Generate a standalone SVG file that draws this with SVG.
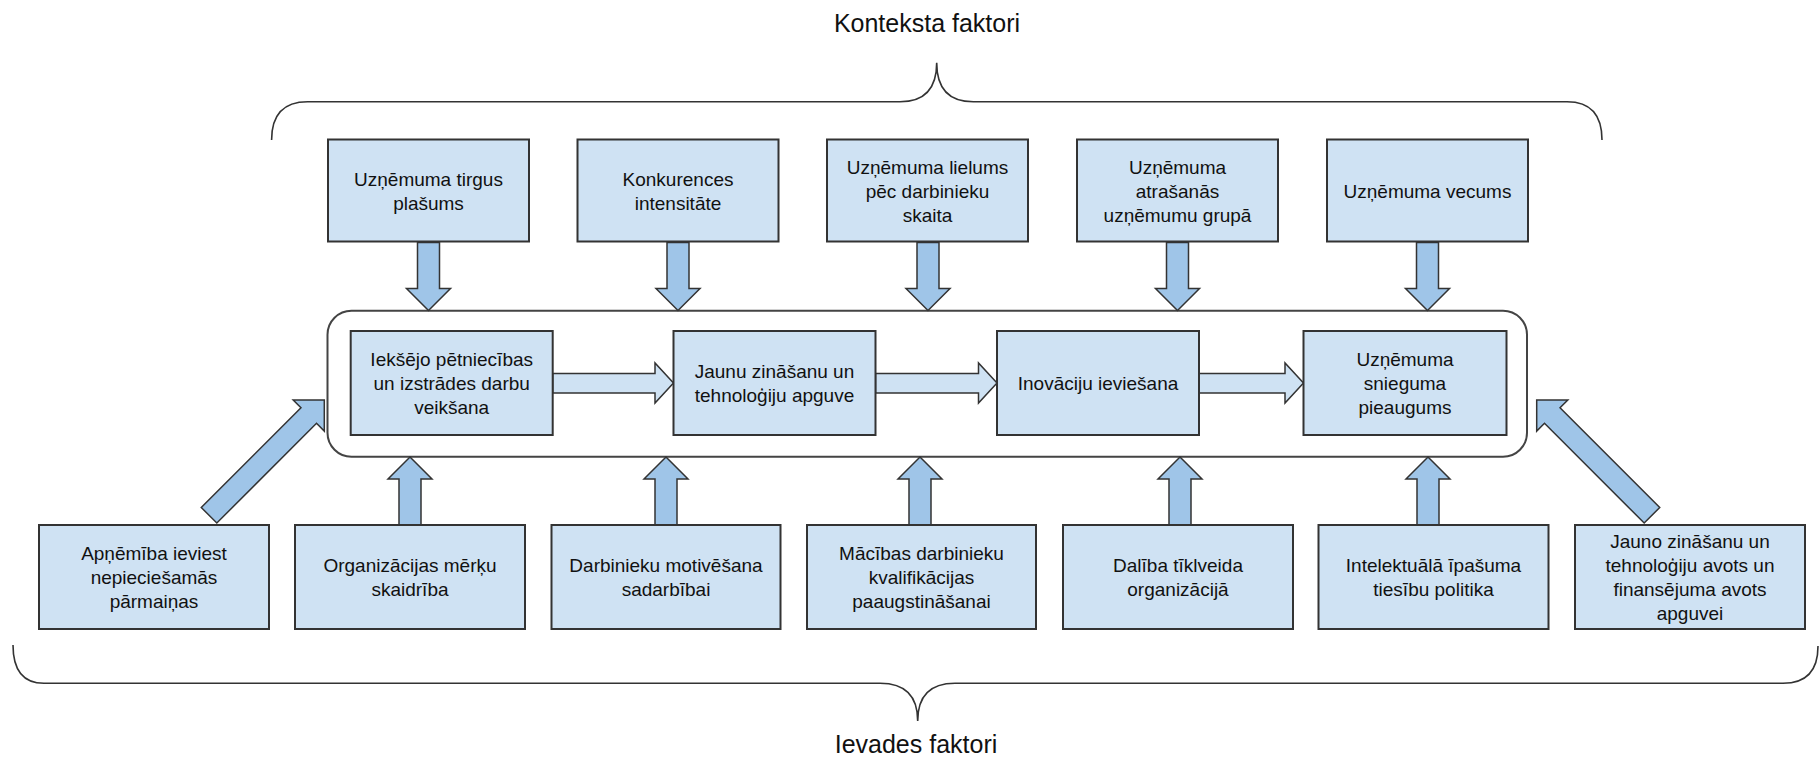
<svg xmlns="http://www.w3.org/2000/svg" width="1820" height="763" viewBox="0 0 1820 763">
<defs>
<style>
.box{fill:#cfe2f3;stroke:#333;stroke-width:2}
.frame{fill:none;stroke:#444;stroke-width:2}
.arr{fill:#9fc5e8;stroke:#333;stroke-width:1.5;stroke-linejoin:miter}
.harr{fill:#cfe2f3;stroke:#333;stroke-width:1.5}
.brace{fill:none;stroke:#333;stroke-width:1.6}
.t{font-family:"Liberation Sans",Arial,sans-serif;font-size:19px;fill:#111;text-anchor:middle}
.title{font-family:"Liberation Sans",Arial,sans-serif;font-size:25px;fill:#111;text-anchor:middle}
</style>
<path id="va" d="M0 0 L22 22 L11 22 L11 68 L-11 68 L-11 22 L-22 22 Z"/>
<path id="da" d="M0 0 L22 22 L11 22 L11 163 L-11 163 L-11 22 L-22 22 Z"/>
</defs>
<rect width="1820" height="763" fill="#fff"/>

<g id="braces">
<path class="brace" d="M271.6 140 Q271.6 101.7 307.6 101.7 L900 101.7 Q936.7 101.7 936.7 62.7 Q936.7 101.7 973.3 101.7 L1567 101.7 Q1602 101.7 1602 140"/>
<path class="brace" d="M13 645 Q13 683.3 44 683.3 L880 683.3 Q917.7 683.3 917.7 721 Q917.7 683.3 955 683.3 L1783 683.3 Q1818 683.3 1818 646"/>
</g>
<g id="title-top"><text class="title" x="927" y="32">Konteksta faktori</text></g>
<g id="title-bottom"><text class="title" x="916" y="753">Ievades faktori</text></g>

<g id="process-container"><rect class="frame" x="327.5" y="310.7" width="1199.5" height="146" rx="24"/></g>

<g id="connectors">
<use href="#va" class="arr" transform="translate(428.5,310.5) rotate(180)"/>
<use href="#va" class="arr" transform="translate(678,310.5) rotate(180)"/>
<use href="#va" class="arr" transform="translate(928,310.5) rotate(180)"/>
<use href="#va" class="arr" transform="translate(1177.5,310.5) rotate(180)"/>
<use href="#va" class="arr" transform="translate(1427.5,310.5) rotate(180)"/>
<use href="#va" class="arr" transform="translate(410,457)"/>
<use href="#va" class="arr" transform="translate(666,457)"/>
<use href="#va" class="arr" transform="translate(920,457)"/>
<use href="#va" class="arr" transform="translate(1180,457)"/>
<use href="#va" class="arr" transform="translate(1428,457)"/>
<use href="#da" class="arr" transform="translate(324.3,400) rotate(45)"/>
<use href="#da" class="arr" transform="translate(1536.7,400) rotate(-45)"/>
<path class="harr" d="M552.7 373.5 L655 373.5 L655 363 L673.5 383 L655 403 L655 393 L552.7 393 Z"/>
<path class="harr" d="M875.5 373.5 L978.5 373.5 L978.5 363 L997 383 L978.5 403 L978.5 393 L875.5 393 Z"/>
<path class="harr" d="M1199 373.5 L1285 373.5 L1285 363 L1303.5 383 L1285 403 L1285 393 L1199 393 Z"/>
</g>

<g id="top1"><rect class="box" x="328" y="139.5" width="201" height="102"/><text class="t"><tspan x="428.5" y="185.5">Uzņēmuma tirgus</tspan><tspan x="428.5" y="209.5">plašums</tspan></text></g>
<g id="top2"><rect class="box" x="577.5" y="139.5" width="201" height="102"/><text class="t"><tspan x="678" y="185.5">Konkurences</tspan><tspan x="678" y="209.5">intensitāte</tspan></text></g>
<g id="top3"><rect class="box" x="827" y="139.5" width="201" height="102"/><text class="t"><tspan x="927.5" y="173.5">Uzņēmuma lielums</tspan><tspan x="927.5" y="197.5">pēc darbinieku</tspan><tspan x="927.5" y="221.5">skaita</tspan></text></g>
<g id="top4"><rect class="box" x="1077" y="139.5" width="201" height="102"/><text class="t"><tspan x="1177.5" y="173.5">Uzņēmuma</tspan><tspan x="1177.5" y="197.5">atrašanās</tspan><tspan x="1177.5" y="221.5">uzņēmumu grupā</tspan></text></g>
<g id="top5"><rect class="box" x="1327" y="139.5" width="201" height="102"/><text class="t"><tspan x="1427.5" y="197.5">Uzņēmuma vecums</tspan></text></g>

<g id="proc1"><rect class="box" x="350.7" y="331" width="202" height="104"/><text class="t"><tspan x="451.7" y="366">Iekšējo pētniecības</tspan><tspan x="451.7" y="390">un izstrādes darbu</tspan><tspan x="451.7" y="414">veikšana</tspan></text></g>
<g id="proc2"><rect class="box" x="673.5" y="331" width="202" height="104"/><text class="t"><tspan x="774.5" y="378">Jaunu zināšanu un</tspan><tspan x="774.5" y="402">tehnoloģiju apguve</tspan></text></g>
<g id="proc3"><rect class="box" x="997" y="331" width="202" height="104"/><text class="t"><tspan x="1098" y="390">Inovāciju ieviešana</tspan></text></g>
<g id="proc4"><rect class="box" x="1303.5" y="331" width="203" height="104"/><text class="t"><tspan x="1405" y="366">Uzņēmuma</tspan><tspan x="1405" y="390">snieguma</tspan><tspan x="1405" y="414">pieaugums</tspan></text></g>

<g id="in1"><rect class="box" x="39" y="525" width="230" height="104"/><text class="t"><tspan x="154" y="560">Apņēmība ieviest</tspan><tspan x="154" y="584">nepieciešamās</tspan><tspan x="154" y="608">pārmaiņas</tspan></text></g>
<g id="in2"><rect class="box" x="295" y="525" width="230" height="104"/><text class="t"><tspan x="410" y="572">Organizācijas mērķu</tspan><tspan x="410" y="596">skaidrība</tspan></text></g>
<g id="in3"><rect class="box" x="551.5" y="525" width="229" height="104"/><text class="t"><tspan x="666" y="572">Darbinieku motivēšana</tspan><tspan x="666" y="596">sadarbībai</tspan></text></g>
<g id="in4"><rect class="box" x="807" y="525" width="229" height="104"/><text class="t"><tspan x="921.5" y="560">Mācības darbinieku</tspan><tspan x="921.5" y="584">kvalifikācijas</tspan><tspan x="921.5" y="608">paaugstināšanai</tspan></text></g>
<g id="in5"><rect class="box" x="1063" y="525" width="230" height="104"/><text class="t"><tspan x="1178" y="572">Dalība tīklveida</tspan><tspan x="1178" y="596">organizācijā</tspan></text></g>
<g id="in6"><rect class="box" x="1318.5" y="525" width="230" height="104"/><text class="t"><tspan x="1433.5" y="572">Intelektuālā īpašuma</tspan><tspan x="1433.5" y="596">tiesību politika</tspan></text></g>
<g id="in7"><rect class="box" x="1575" y="525" width="230" height="104"/><text class="t"><tspan x="1690" y="548">Jauno zināšanu un</tspan><tspan x="1690" y="572">tehnoloģiju avots un</tspan><tspan x="1690" y="596">finansējuma avots</tspan><tspan x="1690" y="620">apguvei</tspan></text></g>
</svg>
